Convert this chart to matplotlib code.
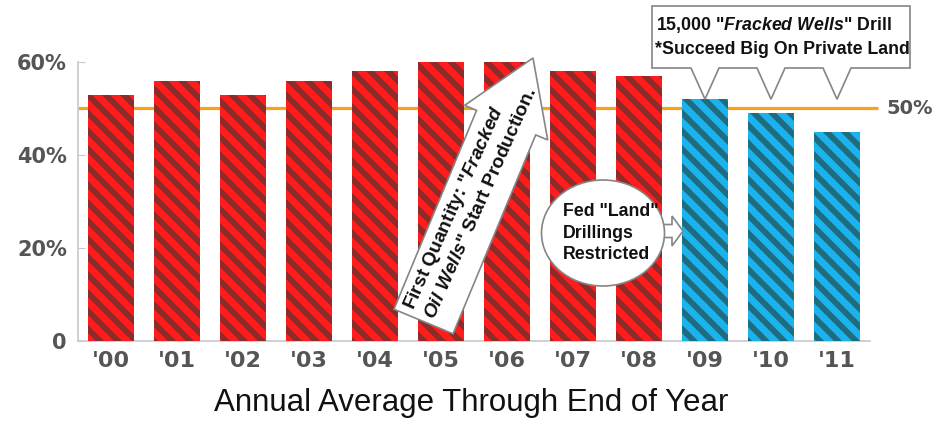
import matplotlib
matplotlib.use("Agg")
import matplotlib.pyplot as plt
from matplotlib.patches import FancyArrow, Ellipse, Polygon
from matplotlib.collections import LineCollection
from matplotlib.transforms import IdentityTransform

# data
years = ["'00", "'01", "'02", "'03", "'04", "'05", "'06", "'07", "'08", "'09", "'10", "'11"]
share = [53, 56, 53, 56, 58, 60, 60, 58, 57, 52, 49, 45]
first_fracked = 9          # '09 onwards drawn in blue
reference_level = 50
yticks = [0, 20, 40, 60]
ytick_labels = ["0", "20%", "40%", "60%"]

red, red_stripe = "#ff1c1c", "#8c2c2a"
blue, blue_stripe = "#1cb2ee", "#1f6c7e"
orange = "#f7a21b"
gray_txt = "#555555"
note_font = "Liberation Sans"

plt.rcParams["mathtext.fontset"] = "custom"
plt.rcParams["mathtext.it"] = note_font + ":italic:bold"
plt.rcParams["mathtext.rm"] = note_font + ":bold"
plt.rcParams["mathtext.bf"] = note_font + ":bold"

W, H = 939, 421
fig = plt.figure(figsize=(W / 100, H / 100), dpi=100)
ax = fig.add_axes([78 / W, 80 / H, 792 / W, 279 / H])

x = list(range(len(years)))
faces = [red if i < first_fracked else blue for i in x]
stripes = [red_stripe if i < first_fracked else blue_stripe for i in x]
bars = ax.bar(x, share, width=0.71, color=faces, linewidth=0, zorder=3)
ax.set_xlim(-0.5, 11.5)
ax.set_ylim(0, 60)

# diagonal stripes, clipped to each bar (pixel space, down-right direction)
period = 18
for patch, col in zip(bars.patches, stripes):
    bb = patch.get_window_extent()
    c = int((bb.x0 + bb.y0) // period) * period
    segs = []
    while c <= bb.x1 + bb.y1 + period:
        segs.append([(c - bb.y1 - 6, bb.y1 + 6), (c - bb.y0 + 6, bb.y0 - 6)])
        c += period
    lc = LineCollection(segs, colors=col, linewidths=4.2, transform=IdentityTransform(),
                        zorder=3.5)
    ax.add_collection(lc, autolim=False)
    lc.set_clip_path(patch)

# 50% reference line runs a little past the last bar
ax.hlines(reference_level, -0.5, 11.62, color=orange, lw=2.3, zorder=2, clip_on=False)
ax.annotate("50%", xy=(11.62, reference_level), xytext=(6, 0), textcoords="offset points",
            ha="left", va="center", fontsize=14, fontweight="bold", color=gray_txt,
            annotation_clip=False)

ax.set_yticks(yticks)
ax.set_yticklabels(ytick_labels)
ax.set_xticks(x)
ax.set_xticklabels(years)
for s in ["top", "right"]:
    ax.spines[s].set_visible(False)
for s in ["left", "bottom"]:
    ax.spines[s].set_color("#c8c8c8")
    ax.spines[s].set_linewidth(1.2)
ax.tick_params(axis="y", direction="in", length=5, color="#c8c8c8", pad=8,
               labelsize=15, labelcolor=gray_txt)
ax.tick_params(axis="x", length=0, pad=7, labelsize=16, labelcolor=gray_txt)
for lab in ax.get_xticklabels() + ax.get_yticklabels():
    lab.set_fontweight("bold")

ax.set_xlabel("Annual Average Through End of Year", family="Liberation Sans",
              fontsize=22.5, color="#111111", va="baseline")
ax.xaxis.set_label_coords(0.496, -0.251)

# overlay in pixel coordinates for the callouts
ov = fig.add_axes([0, 0, 1, 1], zorder=5)
ov.set_xlim(0, W)
ov.set_ylim(H, 0)
ov.axis("off")


def to_px(xd, yd):
    px, py = ax.transData.transform((xd, yd))
    return px, H - py


edge = "#858585"
ink = "#111111"

# big arrow
ov.add_patch(FancyArrow(423.5, 321.5, 109.5, -263.5, width=64, head_width=90,
                        head_length=70, length_includes_head=True,
                        fc="white", ec=edge, lw=1.2))
ov.text(470, 198, 'First Quantity: "$\\mathit{Fracked}$\n$\\mathit{Oil\\ Wells}$" Start Production.',
        rotation=66, rotation_mode="anchor", ha="center", va="center",
        multialignment="left", family=note_font, fontweight="bold", fontsize=13.8,
        color=ink, linespacing=1.3)

# circle callout
ov.add_patch(FancyArrow(650, 231, 33, 0, width=13, head_width=30, head_length=11,
                        length_includes_head=True, fc="white", ec=edge, lw=1.2))
ov.add_patch(Ellipse((603, 233), 123, 106, fc="white", ec=edge, lw=1.2))
ov.text(563, 233, 'Fed "Land"\nDrillings\nRestricted', ha="left", va="center",
        family=note_font, fontweight="bold", fontsize=12.8, color=ink, linespacing=1.35)

# box callout with three tails pointing at the blue bars
left, right, top, bottom = 652, 910, 6, 68
half = 14
pts = [(left, top), (right, top), (right, bottom)]
for i in reversed(range(first_fracked, len(years))):
    tx, ty = to_px(i, 52)
    pts += [(tx + half, bottom), (tx, ty), (tx - half, bottom)]
pts += [(left, bottom)]
ov.add_patch(Polygon(pts, closed=True, fc="white", ec=edge, lw=1.2))
ov.text(656, 25, '15,000 "$\\mathit{Fracked\\ Wells}$" Drill', ha="left", va="center",
        family=note_font, fontweight="bold", fontsize=12.8, color=ink)
ov.text(655, 50, "*Succeed Big On Private Land", ha="left", va="center",
        family=note_font, fontweight="bold", fontsize=12.8, color=ink)

fig.savefig("out.png", dpi=100)
